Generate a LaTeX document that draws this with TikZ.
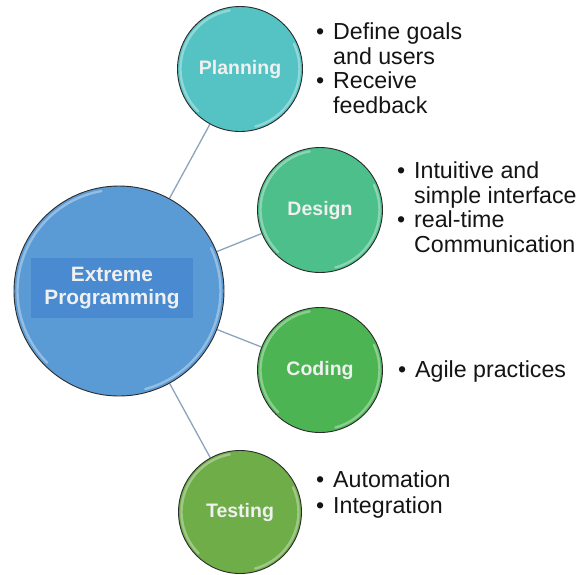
\documentclass[tikz,border=0pt]{standalone}
\usepackage{fontspec}
\setmainfont{Liberation Sans}
\usetikzlibrary{backgrounds}

\definecolor{xpblue}{HTML}{5B9BD5}
\definecolor{xpband}{HTML}{4A8AD0}
\definecolor{xpteal}{HTML}{55C3C3}
\definecolor{xpmint}{HTML}{4CBF8A}
\definecolor{xpgreen}{HTML}{4DB454}
\definecolor{xpolive}{HTML}{6EAD48}
\definecolor{xpline}{HTML}{8BA3BC}
\definecolor{xprim}{HTML}{2B2B2B}

\tikzset{
  phase/.style={circle, draw=xprim, line width=0.9pt, inner sep=0pt,
    text=white!94!black, font=\fontsize{19.5}{22}\selectfont\bfseries},
  link/.style={draw=xpline, line width=1.3pt},
  gloss/.style={draw=white, opacity=0.35, line width=2.4pt, line cap=round},
  notes/.style={inner sep=0pt, anchor=base west, align=left, text=black!92}
}

% glossy rim on the inside of a disc: #1 node, #2 rim radius
\newcommand\rimlight[2]{%
  \draw[gloss] (#1.center) ++(100:#2) arc[start angle=100, end angle=225, radius=#2];
  \draw[gloss] (#1.center) ++(-75:#2) arc[start angle=-75, end angle=25, radius=#2];
}
% bullet column
\newcommand\bul{\makebox[17pt][l]{\textbullet}}

\begin{document}
\begin{tikzpicture}[x=1pt, y=-1pt]
  \useasboundingbox (0,0) rectangle (583,574);

  % discs
  \node[phase, fill=xpblue, minimum size=210pt] (xp) at (119,291) {};
  \node[phase, fill=xpteal, minimum size=125pt] (plan) at (240,69) {Planning};
  \node[phase, fill=xpmint, minimum size=125pt] (design) at (320,210) {Design};
  \node[phase, fill=xpgreen, minimum size=125pt] (code) at (320,370) {Coding};
  \node[phase, fill=xpolive, minimum size=123pt] (test) at (240,512) {Testing};

  \rimlight{xp}{101.5pt}
  \rimlight{plan}{59.5pt}
  \rimlight{design}{59.5pt}
  \rimlight{code}{59.5pt}
  \rimlight{test}{58.5pt}

  % title band on the central disc
  \node[fill=xpband, minimum width=162pt, minimum height=60pt, inner sep=0pt,
        text=white!94!black, align=center,
        font=\fontsize{20.8}{23.5}\selectfont\bfseries] (title) at (112,288)
        {Extreme\\Programming};

  % spokes
  \begin{scope}[on background layer]
    \draw[link] (xp) -- (plan);
    \draw[link] (xp) -- (design);
    \draw[link] (xp) -- (code);
    \draw[link] (xp) -- (test);
  \end{scope}

  % bullet notes
  \node[notes, font=\fontsize{23.2}{24.5}\selectfont] (plannotes) at (316,39.5)
    {\begin{tabular}[t]{@{}l@{}l@{}}\bul & Define goals\\ & and users\\ \bul & Receive\\ & feedback\end{tabular}};
  \node[notes, font=\fontsize{23.2}{24.5}\selectfont] (designnotes) at (397,178.5)
    {\begin{tabular}[t]{@{}l@{}l@{}}\bul & Intuitive and\\ & simple interface\\ \bul & real-time\\ & Communication\end{tabular}};
  \node[notes, font=\fontsize{23.2}{24.5}\selectfont] (codenotes) at (398,377.5)
    {\begin{tabular}[t]{@{}l@{}l@{}}\bul & Agile practices\end{tabular}};
  \node[notes, font=\fontsize{23.2}{26}\selectfont] (testnotes) at (316,487.5)
    {\begin{tabular}[t]{@{}l@{}l@{}}\bul & Automation\\ \bul & Integration\end{tabular}};
\end{tikzpicture}
\end{document}
